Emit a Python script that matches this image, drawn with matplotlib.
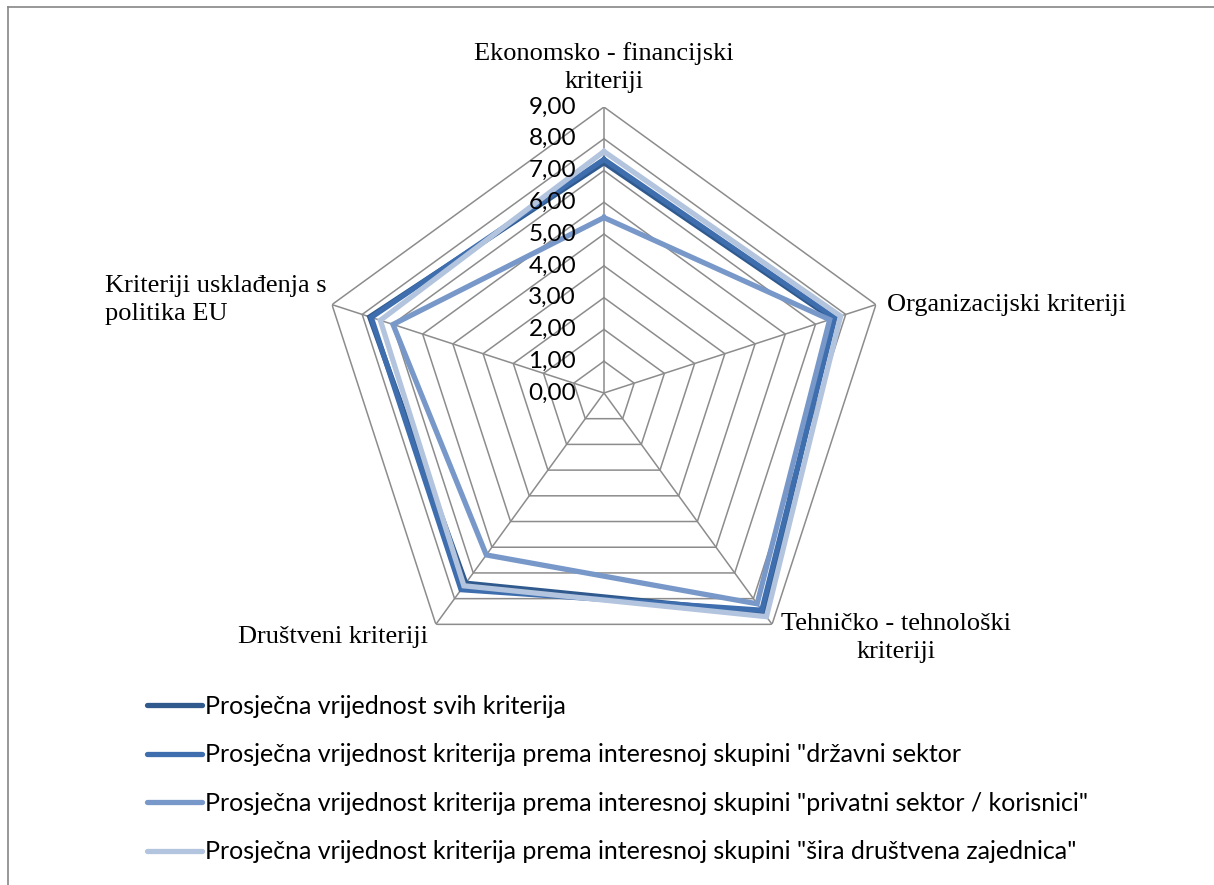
import numpy as np
import matplotlib.pyplot as plt
from matplotlib.lines import Line2D

# kriteriji (osi)
categories = [
    "Ekonomsko - financijski\nkriteriji",
    "Organizacijski kriteriji",
    "Tehničko - tehnološki\nkriteriji",
    "Društveni kriteriji",
    "Kriteriji usklađenja s\npolitika EU",
]

# prosječne vrijednosti po kriteriju
svi = [7.25, 7.57, 8.55, 7.40, 7.75]
drzavni = [7.35, 7.64, 8.45, 7.65, 7.70]
privatni = [5.52, 7.47, 8.20, 6.30, 6.98]
sira = [7.60, 7.83, 8.70, 7.50, 7.40]

series_labels = [
    "Prosječna vrijednost svih kriterija",
    "Prosječna vrijednost kriterija prema interesnoj skupini \"državni sektor",
    "Prosječna vrijednost kriterija prema interesnoj skupini \"privatni sektor / korisnici\"",
    "Prosječna vrijednost kriterija prema interesnoj skupini \"šira društvena zajednica\"",
]
colors = ["#305A8E", "#3E6EAE", "#7898C9", "#B3C4DE"]

ticks = np.arange(0, 10, 1)

fig = plt.figure(figsize=(12.14, 8.85), dpi=100)
ax = fig.add_axes([0.2619, 0.2328, 0.4712, 0.6463], projection="polar")
ax.set_theta_offset(np.pi / 2)
ax.set_theta_direction(-1)
ax.set_ylim(0, 9)
ax.grid(False)
ax.spines["polar"].set_visible(False)
ax.set_xticks([])
ax.set_yticks([])
ax.patch.set_alpha(0)

n = len(categories)
angles = np.linspace(0, 2 * np.pi, n, endpoint=False)
closed = np.append(angles, angles[0])

# mreža u obliku peterokuta
grid_c = "#8C8C8C"
for t in ticks[1:]:
    ax.plot(closed, [t] * (n + 1), color=grid_c, lw=1.1, zorder=1)
for a in angles:
    ax.plot([a, a], [0, 9], color=grid_c, lw=1.1, zorder=1)

for vals, col, lab in zip([svi, drzavni, privatni, sira], colors, series_labels):
    ax.plot(closed, vals + vals[:1], color=col, lw=3.8, label=lab,
            solid_joinstyle="miter", zorder=3)

# oznake vrijednosti uz okomitu os
for t in ticks:
    ax.annotate(f"{t:.2f}".replace(".", ","), xy=(0, t), xytext=(-20, 0),
                textcoords="offset points", ha="right", va="center",
                fontsize=17.5, family="Lato", zorder=4)

# nazivi kriterija
serif = "Liberation Serif"
lab_fs = 19
ax.annotate(categories[0], xy=(angles[0], 9), xytext=(0, 10),
            textcoords="offset points", ha="center", va="bottom",
            multialignment="center", fontsize=lab_fs, family=serif,
            linespacing=1.35)
ax.annotate(categories[1], xy=(angles[1], 9), xytext=(8, 0),
            textcoords="offset points", ha="left", va="center",
            fontsize=lab_fs, family=serif)
ax.annotate(categories[2], xy=(angles[2], 9), xytext=(6.5, 8),
            textcoords="offset points", ha="left", va="top",
            multialignment="center", fontsize=lab_fs, family=serif,
            linespacing=1.35)
ax.annotate(categories[3], xy=(angles[3], 9), xytext=(-6, -9.4),
            textcoords="offset points", ha="right", va="center",
            fontsize=lab_fs, family=serif)
ax.annotate(categories[4], xy=(angles[4], 9), xytext=(-3.6, 3.6),
            textcoords="offset points", ha="right", va="center",
            multialignment="left", fontsize=lab_fs, family=serif,
            linespacing=1.35)

# legenda ispod grafikona
handles = [Line2D([], [], color=c, lw=3.8, solid_capstyle="round") for c in colors]
fig.legend(handles, series_labels, loc="upper left",
           bbox_to_anchor=(0.113, 0.226), frameon=False,
           prop={"family": "Lato", "size": 18}, handlelength=2.2,
           handletextpad=0.12, labelspacing=1.02, borderaxespad=0)

# okvir
fig.add_artist(Line2D([8 / 1214, 8 / 1214], [0, 1 - 7 / 885],
                      transform=fig.transFigure, color="#868686", lw=1.2))
fig.add_artist(Line2D([8 / 1214, 1], [1 - 7 / 885, 1 - 7 / 885],
                      transform=fig.transFigure, color="#868686", lw=1.2))

fig.savefig("out.png", dpi=100)
